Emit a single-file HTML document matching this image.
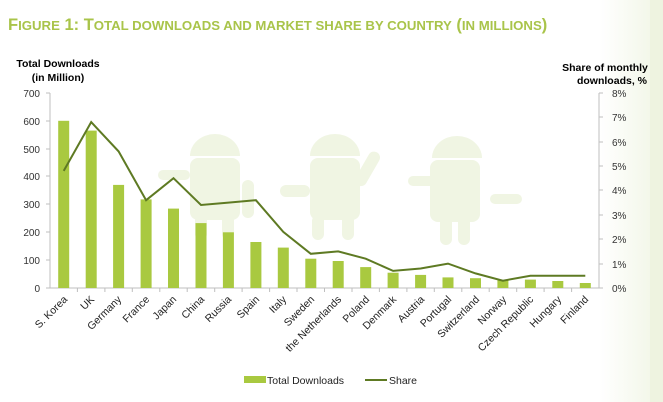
<!DOCTYPE html>
<html><head><meta charset="utf-8"><style>
html,body{margin:0;padding:0;background:#fff;}
svg{display:block;font-family:"Liberation Sans",sans-serif;}
</style></head><body>
<svg width="663" height="402" viewBox="0 0 663 402" xmlns="http://www.w3.org/2000/svg">
<defs><linearGradient id="g" x1="0" x2="1"><stop offset="0" stop-color="#fff"/><stop offset="1" stop-color="#f0f5e4"/></linearGradient></defs>
<rect x="0" y="0" width="663" height="402" fill="#fff"/>
<rect x="600" y="0" width="63" height="402" fill="url(#g)"/>
<rect x="650" y="0" width="13" height="402" fill="#eef3e0"/>
<text x="8" y="30" font-size="16.5" font-weight="bold" fill="#a9c44a">F<tspan font-size="13.2">IGURE</tspan> 1: T<tspan font-size="13.2">OTAL DOWNLOADS AND MARKET SHARE BY COUNTRY</tspan> (<tspan font-size="13.2">IN MILLIONS</tspan>)</text>
<g font-size="10.5" font-weight="bold" fill="#000">
<text x="58" y="67" text-anchor="middle">Total Downloads</text>
<text x="58" y="81" text-anchor="middle">(in Million)</text>
<text x="605" y="71" text-anchor="middle">Share of monthly</text>
<text x="612" y="84" text-anchor="middle">downloads, %</text>
</g>
<g fill="#f0f5e3">
<rect x="190" y="158" width="50" height="62" rx="8"/><path d="M190 156a25 22 0 0 1 50 0z"/><rect x="158" y="170" width="32" height="10" rx="5"/><rect x="242" y="180" width="12" height="38" rx="6"/><rect x="195" y="215" width="12" height="25" rx="6"/><rect x="222" y="215" width="12" height="25" rx="6"/>
<rect x="310" y="158" width="50" height="62" rx="8"/><path d="M310 156a25 22 0 0 1 50 0z"/><rect x="280" y="185" width="30" height="12" rx="6"/><rect x="362" y="150" width="12" height="38" rx="6" transform="rotate(30 368 168)"/><rect x="312" y="215" width="12" height="25" rx="6"/><rect x="342" y="215" width="12" height="25" rx="6"/>
<rect x="430" y="160" width="50" height="62" rx="8"/><path d="M432 158a25 22 0 0 1 50 0z"/><rect x="408" y="176" width="28" height="10" rx="5"/><rect x="490" y="194" width="32" height="10" rx="5"/><rect x="440" y="215" width="12" height="30" rx="6"/><rect x="458" y="215" width="12" height="30" rx="6"/>
</g>
<g stroke="#bfbfbf" stroke-width="1" fill="none">
<line x1="50" y1="93" x2="50" y2="288"/>
<line x1="50" y1="288" x2="599" y2="288"/>
<line x1="599" y1="93" x2="599" y2="288"/>
<path d="M46 93h4M46 121h4M46 149h4M46 176h4M46 204h4M46 232h4M46 260h4M46 288h4"/>
<path d="M599 93h4M599 117h4M599 142h4M599 166h4M599 190h4M599 215h4M599 239h4M599 264h4M599 288h4"/>
<path d="M77.4 288v4M104.9 288v4M132.3 288v4M159.8 288v4M187.2 288v4M214.7 288v4M242.1 288v4M269.6 288v4M297 288v4M324.5 288v4M352 288v4M379.4 288v4M406.9 288v4M434.3 288v4M461.8 288v4M489.2 288v4M516.7 288v4M544.1 288v4M571.6 288v4"/>
</g>
<g font-size="10" fill="#333" text-anchor="end">
<text x="40" y="97">700</text><text x="40" y="125">600</text><text x="40" y="153">500</text><text x="40" y="180">400</text><text x="40" y="208">300</text><text x="40" y="236">200</text><text x="40" y="264">100</text><text x="40" y="292">0</text>
</g>
<g font-size="10" fill="#333">
<text x="612" y="97">8%</text><text x="612" y="121">7%</text><text x="612" y="146">6%</text><text x="612" y="170">5%</text><text x="612" y="194">4%</text><text x="612" y="219">3%</text><text x="612" y="243">2%</text><text x="612" y="268">1%</text><text x="612" y="292">0%</text>
</g>
<g fill="#a9c940">
<rect x="58.2" y="120.8" width="11" height="167.2"/>
<rect x="85.7" y="130.6" width="11" height="157.4"/>
<rect x="113.1" y="184.9" width="11" height="103.1"/>
<rect x="140.6" y="199.4" width="11" height="88.6"/>
<rect x="168" y="208.6" width="11" height="79.4"/>
<rect x="195.5" y="223.1" width="11" height="64.9"/>
<rect x="222.9" y="232.3" width="11" height="55.7"/>
<rect x="250.4" y="242" width="11" height="46"/>
<rect x="277.8" y="247.6" width="11" height="40.4"/>
<rect x="305.3" y="258.7" width="11" height="29.3"/>
<rect x="332.7" y="261" width="11" height="27"/>
<rect x="360.2" y="267.1" width="11" height="20.9"/>
<rect x="387.6" y="272.7" width="11" height="15.3"/>
<rect x="415.1" y="274.9" width="11" height="13.1"/>
<rect x="442.5" y="277.4" width="11" height="10.6"/>
<rect x="470" y="278.2" width="11" height="9.8"/>
<rect x="497.4" y="280.2" width="11" height="7.8"/>
<rect x="524.9" y="279.6" width="11" height="8.4"/>
<rect x="552.3" y="281" width="11" height="7"/>
<rect x="579.8" y="283" width="11" height="5"/>
</g>
<polyline fill="none" stroke="#5e7a23" stroke-width="2" points="63.7,170.9 91.2,122.1 118.6,151.4 146.1,200.2 173.5,178.2 201,205 228.4,202.6 255.9,200.2 283.3,231.9 310.8,253.8 338.2,251.4 365.7,258.7 393.1,270.9 420.6,268.5 448,263.6 475.5,273.4 502.9,280.7 530.4,275.8 557.8,275.8 585.3,275.8"/>
<g font-size="10.5" fill="#222" text-anchor="end">
<text transform="translate(68,300) rotate(-45)">S. Korea</text>
<text transform="translate(95,300) rotate(-45)">UK</text>
<text transform="translate(122,300) rotate(-45)">Germany</text>
<text transform="translate(150,300) rotate(-45)">France</text>
<text transform="translate(177,300) rotate(-45)">Japan</text>
<text transform="translate(205,300) rotate(-45)">China</text>
<text transform="translate(232,300) rotate(-45)">Russia</text>
<text transform="translate(260,300) rotate(-45)">Spain</text>
<text transform="translate(287,300) rotate(-45)">Italy</text>
<text transform="translate(315,300) rotate(-45)">Sweden</text>
<text transform="translate(342,300) rotate(-45)">the Netherlands</text>
<text transform="translate(370,300) rotate(-45)">Poland</text>
<text transform="translate(397,300) rotate(-45)">Denmark</text>
<text transform="translate(425,300) rotate(-45)">Austria</text>
<text transform="translate(452,300) rotate(-45)">Portugal</text>
<text transform="translate(480,300) rotate(-45)">Switzerland</text>
<text transform="translate(507,300) rotate(-45)">Norway</text>
<text transform="translate(534,300) rotate(-45)">Czech Republic</text>
<text transform="translate(562,300) rotate(-45)">Hungary</text>
<text transform="translate(589,300) rotate(-45)">Finland</text>
</g>
<rect x="244" y="376" width="22" height="7" fill="#a9c940"/>
<text x="267" y="384" font-size="10.5" fill="#222">Total Downloads</text>
<line x1="365" y1="380" x2="387" y2="380" stroke="#5e7a23" stroke-width="2"/>
<text x="389" y="384" font-size="10.5" fill="#222">Share</text>
</svg>
</body></html>
